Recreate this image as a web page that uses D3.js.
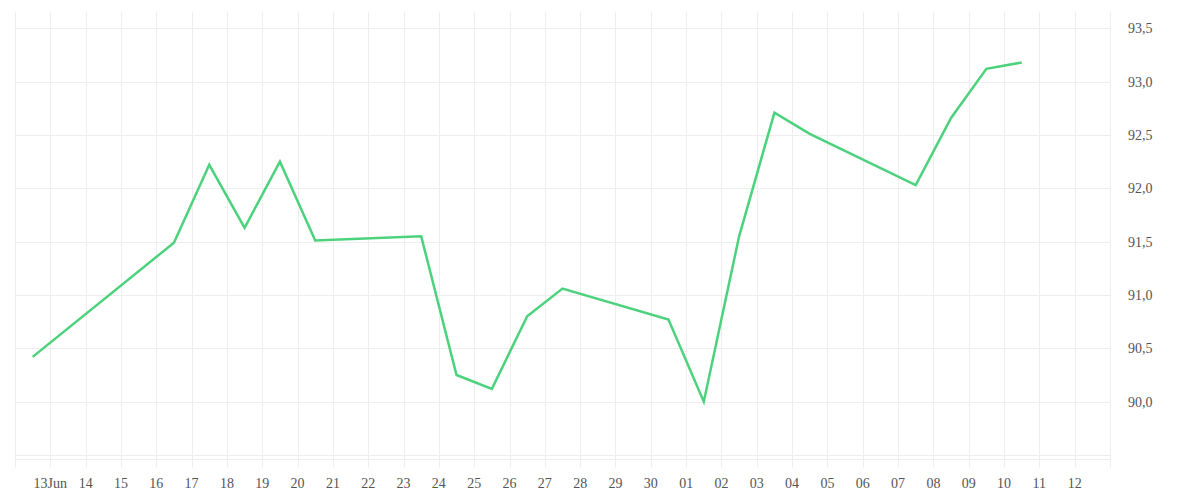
<!DOCTYPE html>
<html>
<head>
<meta charset="utf-8">
<script src="https://cdn.jsdelivr.net/npm/d3@7"></script>
<style>
  body { margin: 0; background: #fff; }
  svg { display: block; }
  .lbl { font-family: "Liberation Serif", "Times New Roman", serif; font-size: 14px; fill: #555; }
</style>
</head>
<body>
<svg class="container" width="1200" height="500"></svg>
<script>
let dates = [
    "2025-06-12T12:00Z", "2025-06-16T12:00Z", "2025-06-17T12:00Z", "2025-06-18T12:00Z",
    "2025-06-19T12:00Z", "2025-06-20T12:00Z", "2025-06-23T12:00Z", "2025-06-24T12:00Z",
    "2025-06-25T12:00Z", "2025-06-26T12:00Z", "2025-06-27T12:00Z", "2025-06-30T12:00Z",
    "2025-07-01T12:00Z", "2025-07-02T12:00Z", "2025-07-03T12:00Z", "2025-07-04T12:00Z",
    "2025-07-07T12:00Z", "2025-07-08T12:00Z", "2025-07-09T12:00Z", "2025-07-10T12:00Z"
];
let values = [
    90.42, 91.49, 92.22, 91.63,
    92.25, 91.51, 91.55, 90.25,
    90.12, 90.80, 91.06, 90.77,
    90.00, 91.55, 92.71, 92.51,
    92.03, 92.66, 93.12, 93.18
];
let yTicks = [90.0, 90.5, 91.0, 91.5, 92.0, 92.5, 93.0, 93.5];
let xTickLabels = [
    "13Jun", "14", "15", "16", "17", "18", "19", "20", "21", "22", "23", "24", "25", "26", "27",
    "28", "29", "30", "01", "02", "03", "04", "05", "06", "07", "08", "09", "10", "11", "12"
];

let plotLeft = 15, plotRight = 1110, plotTop = 12.3, plotBottom = 455;
let svg = d3.select(".container");

let x = d3.scaleUtc()
    .domain([new Date("2025-06-12T00:00Z"), new Date("2025-07-13T00:00Z")])
    .range([plotLeft, plotRight]);
let y = d3.scaleLinear()
    .domain([89.5, 93.65])
    .range([plotBottom, plotTop]);

let gridDays = d3.utcDay.range(x.domain()[0], d3.utcDay.offset(x.domain()[1], 1));
let labelDays = gridDays.slice(1, 1 + xTickLabels.length);

// vertical grid
svg.append("g")
    .selectAll("line")
    .data(gridDays)
    .enter()
    .append("line")
    .attr("x1", d => Math.round(x(d)) + 0.5)
    .attr("x2", d => Math.round(x(d)) + 0.5)
    .attr("y1", plotTop)
    .attr("y2", 467.5)
    .style("stroke", "#eeeeee")
    .style("stroke-width", "1");

// horizontal grid
svg.append("g")
    .selectAll("line")
    .data(yTicks)
    .enter()
    .append("line")
    .attr("x1", plotLeft)
    .attr("x2", plotRight)
    .attr("y1", d => Math.round(y(d)) + 0.5)
    .attr("y2", d => Math.round(y(d)) + 0.5)
    .style("stroke", "#eeeeee")
    .style("stroke-width", "1");

// bottom double line
[plotBottom, plotBottom + 3.5].forEach(v => {
    svg.append("line")
        .attr("x1", plotLeft).attr("x2", plotRight)
        .attr("y1", Math.round(v) + 0.5).attr("y2", Math.round(v) + 0.5)
        .style("stroke", "#eeeeee")
        .style("stroke-width", "1");
});

// x labels
svg.append("g")
    .selectAll("text")
    .data(labelDays)
    .enter()
    .append("text")
    .attr("class", "lbl")
    .attr("x", d => x(d))
    .attr("y", 488)
    .attr("text-anchor", "middle")
    .text((d, i) => xTickLabels[i]);

// y labels
let fmt = v => d3.format(".1f")(v).replace(".", ",");
svg.append("g")
    .selectAll("text")
    .data(yTicks)
    .enter()
    .append("text")
    .attr("class", "lbl")
    .attr("x", 1128)
    .attr("y", d => y(d) + 5)
    .text(d => fmt(d));

// the series
let points = dates.map((d, i) => ({ date: new Date(d), value: values[i] }));
let line = d3.line()
    .x(d => x(d.date))
    .y(d => y(d.value));

svg.append("path")
    .datum(points)
    .attr("d", line)
    .style("fill", "none")
    .style("stroke", "#4cd27d")
    .style("stroke-width", "2.5")
    .style("stroke-linejoin", "miter");
</script>
</body>
</html>
